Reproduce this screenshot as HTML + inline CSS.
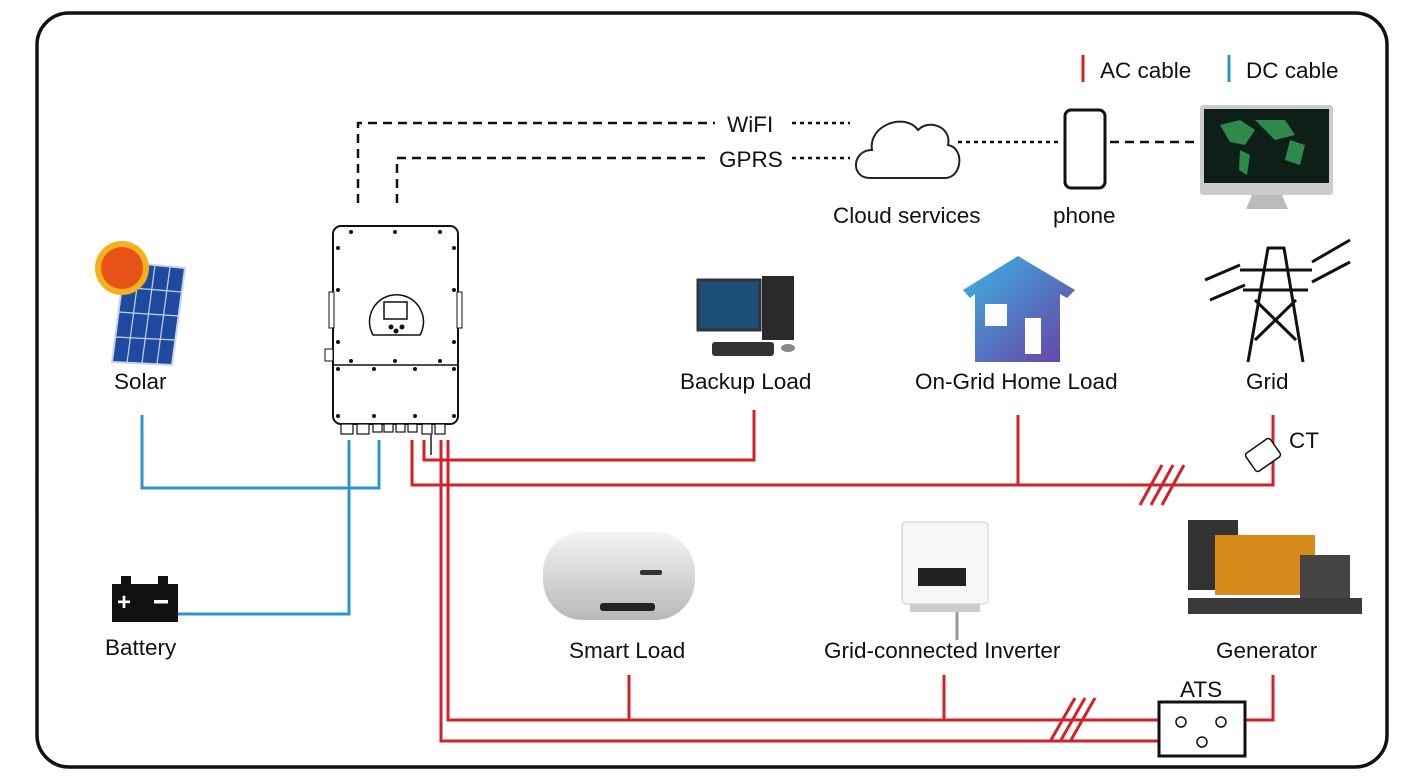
<!DOCTYPE html>
<html><head><meta charset="utf-8"><style>
html,body{margin:0;padding:0;background:#fff}
svg{display:block}
text{font-family:"Liberation Sans",Arial,sans-serif;fill:#111}
</style></head><body>
<svg width="1421" height="779" viewBox="0 0 1421 779" xmlns="http://www.w3.org/2000/svg">
<rect x="37" y="13" width="1350" height="754" rx="32" fill="#fff" stroke="#111" stroke-width="3.5"/>

<line x1="1083" y1="55" x2="1083" y2="82" stroke="#d42027" stroke-width="3"/>
<text x="1100" y="78" font-size="22.5">AC cable</text>
<line x1="1229" y1="55" x2="1229" y2="82" stroke="#2e94cc" stroke-width="3"/>
<text x="1246" y="78" font-size="22.5">DC cable</text>

<g stroke="#111" stroke-width="2.5" fill="none" stroke-dasharray="9,6">
<polyline points="358,203 358,123 715,123"/>
<polyline points="397,203 397,158 705,158"/>
</g>
<g stroke="#111" stroke-width="2.5" fill="none" stroke-dasharray="4,4">
<line x1="792" y1="123" x2="850" y2="123"/>
<line x1="792" y1="158" x2="850" y2="158"/>
<line x1="958" y1="142" x2="1060" y2="142"/>
</g>
<line x1="1110" y1="142" x2="1198" y2="142" stroke="#111" stroke-width="2.5" stroke-dasharray="9,6"/>
<text x="727" y="132" font-size="22.5">WiFI</text>
<text x="719" y="167" font-size="22.5">GPRS</text>

<path d="M870,178 C850,178 852,150 872,150 C868,125 905,112 918,130 C930,118 952,128 948,145 C965,148 962,178 945,178 Z" fill="#fff" stroke="#222" stroke-width="2"/>
<text x="833" y="223" font-size="22.5">Cloud services</text>
<rect x="1065" y="110" width="40" height="78" rx="6" fill="#fff" stroke="#111" stroke-width="3"/>
<text x="1053" y="223" font-size="22.5">phone</text>
<rect x="1200" y="105" width="133" height="90" rx="3" fill="#ccc"/>
<rect x="1204" y="109" width="125" height="74" fill="#0e1f18"/>
<path d="M1220,125 l20,-5 l15,10 l-10,15 l-15,-3 z M1255,120 l30,0 l10,15 l-20,5 z M1290,140 l15,5 l-5,20 l-15,-5 z M1240,150 l10,5 l-3,20 l-8,-5 z" fill="#2e8a4a"/>
<path d="M1252,195 l30,0 l6,14 l-42,0 z" fill="#bbb"/>

<polygon points="125,262 185,268 172,365 112,362" fill="#1e4aa0" stroke="#c8d4ea" stroke-width="2"/>
<g stroke="#c8d4ea" stroke-width="1.2">
<line x1="140" y1="264" x2="127" y2="363"/><line x1="155" y1="265" x2="142" y2="363"/><line x1="170" y1="267" x2="157" y2="364"/>
<line x1="121" y1="287" x2="182" y2="292"/><line x1="118" y1="312" x2="179" y2="316"/><line x1="115" y1="337" x2="176" y2="340"/>
</g>
<circle cx="122" cy="268" r="27" fill="#f3b11a"/>
<circle cx="122" cy="268" r="21" fill="#e8531a"/>
<text x="114" y="389" font-size="22.5">Solar</text>

<rect x="112" y="584" width="66" height="38" fill="#111"/>
<rect x="121" y="576" width="10" height="8" fill="#111"/><rect x="158" y="576" width="10" height="8" fill="#111"/>
<text x="117" y="610" font-size="24" font-weight="bold" style="fill:#fff">+</text>
<rect x="154" y="600" width="14" height="3.5" fill="#fff"/>
<text x="105" y="655" font-size="22.5">Battery</text>

<rect x="333" y="226" width="125" height="198" rx="8" fill="#fff" stroke="#111" stroke-width="2"/>
<line x1="333" y1="365" x2="458" y2="365" stroke="#111" stroke-width="1.5"/>
<rect x="329" y="292" width="5" height="36" fill="#fff" stroke="#111"/>
<rect x="457" y="292" width="5" height="36" fill="#fff" stroke="#111"/>
<rect x="325" y="349" width="8" height="12" fill="#fff" stroke="#111"/>
<path d="M373,335 A27,27 0 1 1 420,335 Z" fill="#fff" stroke="#111" stroke-width="1.5"/>
<rect x="384" y="302" width="23" height="17" fill="#fff" stroke="#111" stroke-width="1.5"/>
<circle cx="391" cy="327" r="2.5" fill="#111"/><circle cx="402" cy="327" r="2.5" fill="#111"/><circle cx="396" cy="331" r="2.5" fill="#111"/>
<g fill="#111">
<circle cx="351" cy="232" r="2"/><circle cx="395" cy="232" r="2"/><circle cx="440" cy="232" r="2"/>
<circle cx="338" cy="248" r="2"/><circle cx="454" cy="248" r="2"/><circle cx="338" cy="290" r="2"/><circle cx="454" cy="290" r="2"/>
<circle cx="338" cy="342" r="2"/><circle cx="454" cy="342" r="2"/><circle cx="351" cy="361" r="2"/><circle cx="395" cy="361" r="2"/><circle cx="440" cy="361" r="2"/>
<circle cx="338" cy="369" r="2"/><circle cx="374" cy="369" r="2"/><circle cx="415" cy="369" r="2"/><circle cx="454" cy="369" r="2"/>
<circle cx="338" cy="416" r="2"/><circle cx="374" cy="416" r="2"/><circle cx="415" cy="416" r="2"/><circle cx="454" cy="416" r="2"/>
</g>
<g fill="#fff" stroke="#111" stroke-width="1.2">
<rect x="341" y="424" width="12" height="10"/><rect x="357" y="424" width="12" height="10"/><rect x="373" y="424" width="9" height="8"/><rect x="384" y="424" width="9" height="8"/><rect x="396" y="424" width="9" height="8"/><rect x="408" y="424" width="9" height="8"/><rect x="422" y="424" width="10" height="10"/><rect x="435" y="424" width="10" height="10"/>
</g>
<line x1="431" y1="434" x2="431" y2="455" stroke="#555" stroke-width="2"/>

<g stroke="#2e94cc" stroke-width="3" fill="none">
<polyline points="142,415 142,488 379,488 379,440"/>
<polyline points="178,614 349,614 349,440"/>
</g>

<g stroke="#d42027" stroke-width="3" fill="none">
<polyline points="412,440 412,485 1273,485 1273,415"/>
<polyline points="424,440 424,460 754,460 754,410"/>
<line x1="1018" y1="415" x2="1018" y2="485"/>
<polyline points="441,440 441,741 1196,741"/>
<polyline points="448,440 448,720 1178,720"/>
<line x1="629" y1="675" x2="629" y2="720"/>
<line x1="944" y1="675" x2="944" y2="720"/>
<polyline points="1226,720 1273,720 1273,675"/>
<line x1="1140" y1="505" x2="1162" y2="465"/><line x1="1151" y1="505" x2="1173" y2="465"/><line x1="1162" y1="505" x2="1184" y2="465"/>
<line x1="1051" y1="740" x2="1075" y2="698"/><line x1="1061" y1="740" x2="1085" y2="698"/><line x1="1071" y1="740" x2="1095" y2="698"/>
</g>

<g transform="rotate(-35 1263 455)"><rect x="1248" y="444" width="30" height="22" rx="3" fill="#fff" stroke="#111" stroke-width="1.5"/></g>
<text x="1289" y="448" font-size="22.5">CT</text>

<rect x="1159" y="702" width="86" height="54" fill="#fff" stroke="#111" stroke-width="3"/>
<circle cx="1181" cy="722" r="5" fill="#fff" stroke="#111" stroke-width="1.5"/>
<circle cx="1221" cy="722" r="5" fill="#fff" stroke="#111" stroke-width="1.5"/>
<circle cx="1202" cy="742" r="5" fill="#fff" stroke="#111" stroke-width="1.5"/>
<text x="1180" y="697" font-size="22.5">ATS</text>

<rect x="698" y="280" width="62" height="50" fill="#1d4f7a" stroke="#333" stroke-width="3"/>
<rect x="762" y="276" width="32" height="64" fill="#2a2a2a"/>
<rect x="712" y="342" width="62" height="14" rx="3" fill="#333"/>
<ellipse cx="788" cy="348" rx="7" ry="4" fill="#888"/>
<text x="680" y="389" font-size="22.5">Backup Load</text>

<defs><linearGradient id="hg" x1="0" y1="0" x2="1" y2="1"><stop offset="0" stop-color="#3bb4e6"/><stop offset="1" stop-color="#6a3fa0"/></linearGradient></defs>
<path d="M963,290 L1018,256 L1075,290 L1067,298 L1060,294 L1060,362 L975,362 L975,294 L970,298 Z" fill="url(#hg)"/>
<rect x="985" y="304" width="22" height="22" fill="#fff"/>
<rect x="1025" y="318" width="16" height="36" fill="#fff"/>
<text x="915" y="389" font-size="22.5">On-Grid Home Load</text>

<g stroke="#111" stroke-width="3" fill="none">
<polyline points="1248,362 1268,248 1284,248 1303,362"/>
<line x1="1255" y1="340" x2="1296" y2="300"/><line x1="1296" y1="340" x2="1255" y2="300"/>
<line x1="1240" y1="270" x2="1312" y2="270"/><line x1="1243" y1="290" x2="1308" y2="290"/>
<line x1="1205" y1="280" x2="1240" y2="265"/><line x1="1210" y1="300" x2="1245" y2="285"/><line x1="1312" y1="262" x2="1350" y2="240"/><line x1="1312" y1="282" x2="1350" y2="262"/>
</g>
<text x="1246" y="389" font-size="22.5">Grid</text>

<defs><linearGradient id="wg" x1="0" y1="0" x2="0" y2="1"><stop offset="0" stop-color="#f4f4f4"/><stop offset="1" stop-color="#b8b8b8"/></linearGradient></defs>
<rect x="543" y="532" width="152" height="88" rx="40" fill="url(#wg)"/>
<rect x="640" y="570" width="22" height="5" rx="2" fill="#333"/>
<rect x="600" y="603" width="55" height="8" rx="3" fill="#222"/>
<text x="569" y="658" font-size="22.5">Smart Load</text>

<rect x="902" y="522" width="86" height="82" rx="4" fill="#f7f7f7" stroke="#ccc"/>
<rect x="918" y="568" width="48" height="18" fill="#222"/>
<rect x="910" y="604" width="70" height="8" fill="#ccc"/>
<line x1="957" y1="612" x2="957" y2="640" stroke="#999" stroke-width="3"/>
<text x="824" y="658" font-size="22.5">Grid-connected Inverter</text>

<rect x="1188" y="520" width="50" height="70" fill="#333"/>
<rect x="1215" y="535" width="100" height="60" fill="#d88a1a"/>
<rect x="1300" y="555" width="50" height="45" fill="#444"/>
<rect x="1188" y="598" width="174" height="16" fill="#3a3a3a"/>
<text x="1216" y="658" font-size="22.5">Generator</text>
</svg>
</body></html>
